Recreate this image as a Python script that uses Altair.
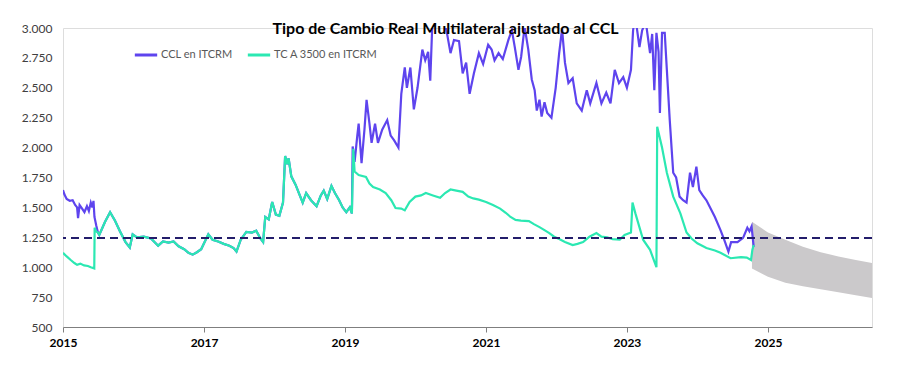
import altair as alt
import pandas as pd

# --- data ---
ccl_pre_dates = ["2015-01-01","2015-01-08","2015-01-20","2015-02-05","2015-02-20","2015-03-05","2015-03-15","2015-03-20","2015-03-28","2015-04-10","2015-04-22","2015-05-05","2015-05-15","2015-05-25","2015-06-02","2015-06-08","2015-06-13","2015-06-22","2015-07-01"]
ccl_pre_vals = [1645,1610,1570,1555,1560,1520,1500,1410,1520,1490,1460,1510,1470,1540,1500,1555,1420,1350,1290]

tc_pre_dates = ["2015-01-01","2015-01-20","2015-02-10","2015-03-01","2015-03-15","2015-04-01","2015-04-20","2015-05-10","2015-05-25","2015-06-12","2015-06-14","2015-06-22","2015-07-01"]
tc_pre_vals = [1120,1090,1060,1035,1020,1030,1015,1010,1000,990,1330,1300,1290]

shared_dates = ["2015-07-08","2015-08-07","2015-09-02","2015-09-27","2015-10-23","2015-11-21","2015-12-13","2015-12-28","2016-01-19","2016-02-24","2016-04-01","2016-05-08","2016-06-02","2016-07-01","2016-07-27","2016-08-22","2016-09-20","2016-10-12","2016-11-03","2016-11-25","2016-12-17","2017-01-23","2017-02-14","2017-03-15","2017-04-13","2017-05-12","2017-06-03","2017-06-18","2017-07-10","2017-08-08","2017-09-06","2017-09-28","2017-10-20","2017-11-03","2017-11-14","2017-12-02","2017-12-20","2018-01-08","2018-01-26","2018-02-14","2018-02-25","2018-03-08","2018-03-15","2018-03-29","2018-04-20","2018-05-12","2018-05-27","2018-06-14","2018-07-09","2018-08-07","2018-08-29","2018-09-13","2018-10-01","2018-10-23","2018-11-10","2018-12-02","2018-12-20","2019-01-08","2019-01-26","2019-02-06"]
shared_vals = [1270,1380,1460,1390,1300,1210,1165,1275,1250,1255,1240,1180,1215,1205,1215,1175,1150,1120,1105,1125,1150,1275,1230,1215,1195,1180,1160,1130,1230,1295,1290,1305,1240,1210,1420,1400,1545,1440,1430,1540,1930,1860,1910,1760,1690,1600,1540,1620,1560,1510,1600,1640,1570,1680,1620,1560,1500,1460,1500,1450]

ccl_post_dates = ["2019-02-10","2019-02-20","2019-03-06","2019-03-13","2019-03-28","2019-04-12","2019-04-23","2019-05-08","2019-05-19","2019-06-06","2019-06-21","2019-07-13","2019-08-08","2019-08-26","2019-09-13","2019-10-05","2019-10-20","2019-11-07","2019-11-18","2019-12-06","2019-12-24","2020-01-12","2020-02-06","2020-02-21","2020-03-07","2020-03-18","2020-03-29","2020-04-20","2020-05-27","2020-06-10","2020-07-01","2020-07-19","2020-08-14","2020-09-02","2020-09-20","2020-10-08","2020-10-30","2020-11-25","2020-12-17","2021-01-12","2021-01-30","2021-02-14","2021-03-07","2021-03-29","2021-04-27","2021-05-15","2021-05-30","2021-06-18","2021-07-02","2021-07-20","2021-08-08","2021-08-26","2021-09-10","2021-09-21","2021-10-05","2021-10-16","2021-10-31","2021-11-14","2021-12-06","2021-12-28","2022-01-15","2022-01-30","2022-02-14","2022-03-04","2022-03-26","2022-04-16","2022-05-12","2022-06-07","2022-06-25","2022-07-27","2022-08-22","2022-09-16","2022-10-08","2022-10-30","2022-11-21","2022-12-13","2023-01-01","2023-01-22","2023-02-02","2023-02-13","2023-03-07","2023-03-21","2023-04-09","2023-05-01","2023-05-12","2023-05-23","2023-06-03","2023-06-14","2023-06-21","2023-07-02","2023-07-16","2023-07-27","2023-08-11","2023-08-22","2023-08-29","2023-09-13","2023-10-01","2023-10-19","2023-11-06","2023-11-24","2023-12-09","2023-12-27","2024-01-11","2024-01-29","2024-02-17","2024-03-13","2024-04-01","2024-04-30","2024-05-19","2024-06-10","2024-06-24","2024-07-27","2024-08-25","2024-09-16","2024-09-27","2024-10-08","2024-10-19"]
ccl_post_vals = [2010,1880,2100,2200,1870,2150,2400,2200,2040,2200,2040,2150,2230,2100,2060,2000,2450,2670,2500,2670,2320,2500,2820,2730,2800,2560,3050,3100,3050,2980,2790,2900,2890,2620,2710,2450,2620,2790,2700,2860,2820,2730,2790,2740,2900,2980,2840,2650,2760,3010,2820,2570,2480,2310,2400,2260,2380,2290,2250,2500,2790,2990,2710,2540,2580,2370,2310,2480,2370,2540,2370,2460,2370,2650,2540,2590,2500,2650,2980,3100,2840,2980,3050,2790,2950,2480,2960,2800,2290,2960,2960,2650,2230,1960,1790,1750,1590,1560,1540,1790,1670,1840,1645,1600,1560,1480,1420,1310,1230,1130,1210,1210,1245,1330,1300,1340,1170]

tc_post_dates = ["2019-02-13","2019-02-20","2019-03-13","2019-04-20","2019-05-08","2019-05-27","2019-07-01","2019-07-31","2019-08-29","2019-09-20","2019-10-20","2019-11-07","2019-12-02","2020-01-01","2020-01-30","2020-02-24","2020-04-01","2020-05-08","2020-06-03","2020-07-01","2020-07-31","2020-09-02","2020-10-01","2020-10-27","2020-11-25","2021-01-01","2021-02-06","2021-03-15","2021-04-13","2021-05-08","2021-06-03","2021-07-01","2021-08-11","2021-09-06","2021-10-05","2021-10-31","2021-11-25","2021-12-20","2022-01-15","2022-02-14","2022-03-26","2022-04-20","2022-05-19","2022-06-21","2022-07-27","2022-08-22","2022-09-20","2022-10-19","2022-11-25","2022-12-20","2023-01-22","2023-01-30","2023-02-14","2023-03-26","2023-05-01","2023-06-03","2023-06-07","2023-07-02","2023-07-27","2023-08-29","2023-10-05","2023-11-06","2023-12-02","2024-01-01","2024-02-17","2024-04-01","2024-04-30","2024-06-21","2024-08-14","2024-09-13","2024-10-05","2024-10-12","2024-10-19"]
tc_post_vals = [1990,1800,1770,1755,1700,1670,1650,1620,1560,1495,1490,1475,1545,1590,1600,1620,1600,1580,1620,1650,1640,1630,1590,1575,1565,1545,1520,1490,1455,1420,1395,1390,1385,1360,1335,1310,1285,1255,1235,1210,1185,1195,1210,1255,1285,1255,1250,1235,1230,1270,1290,1540,1450,1230,1145,1000,2175,2000,1790,1590,1450,1290,1240,1200,1160,1140,1120,1075,1085,1080,1060,1145,1185]

band_dates = ["2024-10-10","2025-01-01","2025-04-01","2025-07-01","2025-10-01","2026-01-01","2026-04-01","2026-06-24"]
band_upper = [1380,1290,1230,1170,1125,1090,1060,1035]
band_lower = [990,920,870,840,815,790,765,742]

reference_level = 1245

series_names = ["CCL en ITCRM", "TC A 3500 en ITCRM"]
series_colors = ["#5E44EE", "#2BE8B2"]

ccl = pd.DataFrame({
    "fecha": ccl_pre_dates + shared_dates + ccl_post_dates,
    "valor": ccl_pre_vals + shared_vals + ccl_post_vals,
})
ccl["serie"] = series_names[0]
tc = pd.DataFrame({
    "fecha": tc_pre_dates + shared_dates + tc_post_dates,
    "valor": tc_pre_vals + shared_vals + tc_post_vals,
})
tc["serie"] = series_names[1]
band = pd.DataFrame({"fecha": band_dates, "sup": band_upper, "inf": band_lower})
ref = pd.DataFrame({"y": [reference_level]})

FONT = "Lato"
x_scale = alt.Scale(domain=[alt.DateTime(year=2015, month=1, date=1), alt.DateTime(year=2026, month=6, date=24)])
y_scale = alt.Scale(domain=[500, 3000], nice=False)
x_axis = alt.Axis(
    values=[alt.DateTime(year=y, month=1, date=1) for y in [2015, 2017, 2019, 2021, 2023, 2025]],
    format="%Y", title=None, grid=False, domainColor="#7f7f7f", tickColor="#7f7f7f",
    tickSize=5, labelFont=FONT, labelFontSize=12, labelFontWeight="bold", labelColor="#000000",
    labelPadding=5, labelFlush=False, labelOverlap=False,
)
y_axis = alt.Axis(
    values=list(range(500, 3001, 250)), title=None, grid=False, domain=False, ticks=False,
    labelFont=FONT, labelFontSize=12, labelColor="#404040", labelPadding=11,
    labelExpr="replace(format(datum.value, ','), ',', '.')",
)
color_scale = alt.Scale(domain=series_names, range=series_colors)
legend = alt.Legend(
    title=None, orient="none", legendX=70, legendY=14, direction="horizontal",
    symbolType="stroke", symbolSize=500, symbolStrokeWidth=3, labelFont=FONT,
    labelFontSize=11, labelColor="#595959", columnPadding=8, labelOffset=2,
)

band_layer = alt.Chart(band).mark_area(color="#CBC9CB", opacity=1).encode(
    x=alt.X("fecha:T", scale=x_scale, axis=x_axis),
    y=alt.Y("sup:Q", scale=y_scale, axis=y_axis),
    y2="inf:Q",
)
ccl_layer = alt.Chart(ccl).mark_line(strokeWidth=2.2, clip=True).encode(
    x=alt.X("fecha:T", scale=x_scale, axis=x_axis),
    y=alt.Y("valor:Q", scale=y_scale, axis=y_axis),
    color=alt.Color("serie:N", scale=color_scale, legend=legend),
)
tc_layer = alt.Chart(tc).mark_line(strokeWidth=2.2, clip=True).encode(
    x=alt.X("fecha:T", scale=x_scale, axis=x_axis),
    y=alt.Y("valor:Q", scale=y_scale, axis=y_axis),
    color=alt.Color("serie:N", scale=color_scale, legend=legend),
)
rule_layer = alt.Chart(ref).mark_rule(color="#231D6B", strokeWidth=2, strokeDash=[8, 5]).encode(
    y=alt.Y("y:Q", scale=y_scale, axis=y_axis),
)

chart = alt.layer(band_layer, ccl_layer, tc_layer, rule_layer).properties(
    width=809, height=299,
    title=alt.TitleParams(
        "Tipo de Cambio Real Multilateral ajustado al CCL", font=FONT, fontSize=16,
        fontWeight="bold", color="#000000", anchor="middle", dx=-22, dy=28, offset=0,
        baseline="alphabetic",
    ),
    autosize=alt.AutoSizeParams(type="none"),
    padding={"left": 55, "top": 20, "right": 18, "bottom": 30},
).configure_view(stroke=None).configure(background="#ffffff")

chart.save("out.html", embed_options={"renderer": "svg", "actions": False})
